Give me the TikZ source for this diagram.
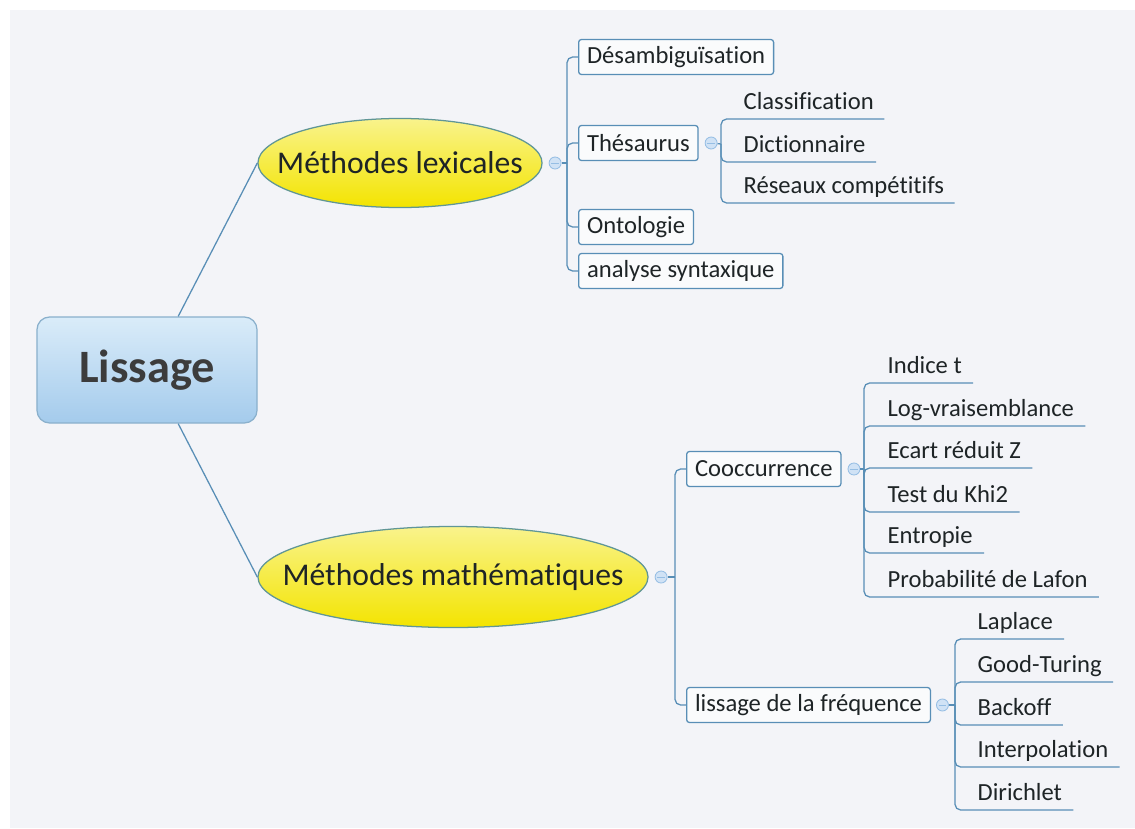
\documentclass[tikz,border=0pt]{standalone}
\usepackage{fontspec}
\setmainfont{Carlito}[Ligatures=NoCommon]
\usepackage{xcolor}
\usepackage{tikz}
\usetikzlibrary{
    shapes.geometric,
    positioning
}
\definecolor{lineblue}{RGB}{88,142,182}
\definecolor{bgpaper}{RGB}{243,244,248}
\definecolor{markfill}{RGB}{208,226,245}
\definecolor{markdraw}{RGB}{150,190,228}
\definecolor{inktext}{RGB}{30,36,38}
\definecolor{ovaldraw}{RGB}{96,150,150}

\begin{document}
\begin{tikzpicture}[x=0.025cm, y=-0.025cm, line width=0.9pt, font=\fontsize{17.5}{21}\selectfont, text=inktext]
    \tikzstyle{root}=[rounded corners=9pt, draw=lineblue!70, top color={rgb,255:red,218;green,236;blue,249}, bottom color={rgb,255:red,164;green,203;blue,236}, minimum width=5.5cm, minimum height=2.65cm, font=\fontsize{33}{40}\selectfont\bfseries, text={rgb,255:red,60;green,60;blue,60}]
    \tikzstyle{oval}=[ellipse, draw=ovaldraw, top color={rgb,255:red,249;green,243;blue,140}, bottom color={rgb,255:red,243;green,228;blue,0}, inner sep=0pt, font=\fontsize{22.5}{27}\selectfont]
    \tikzstyle{topic}=[draw=lineblue, fill=white!60!bgpaper, rounded corners=2pt, anchor=west, minimum height=0.875cm, inner xsep=0.21cm]
    \tikzstyle{leaf}=[anchor=south west, inner xsep=0pt, inner ysep=3.5pt, text depth=.25em]
    \tikzstyle{marker}=[circle, draw=markdraw, fill=markfill, minimum size=0.3cm, inner sep=0pt, line width=0.6pt, path picture={\draw[markdraw] ([xshift=1.5pt]path picture bounding box.west) -- ([xshift=-1.5pt]path picture bounding box.east);}]
    \tikzstyle{branch}=[draw=lineblue, rounded corners=4pt]

    \useasboundingbox (0,0) rectangle (1135,828);
    \fill[bgpaper] (10,10) rectangle (1135,828);

    \node [root] (lissage) at (147,370) {Lissage};

    \node [oval, minimum width=7.1cm, minimum height=2.225cm] (lex) at (400,163) {\makebox[0pt]{Méthodes lexicales}};
    \node [oval, minimum width=9.75cm, minimum height=2.525cm] (math) at (453,577) {\makebox[0pt]{Méthodes mathématiques}};

    \draw [branch] ([xshift=0.78cm]lissage.north) -- (lex.west);
    \draw [branch] ([xshift=0.78cm]lissage.south) -- (math.west);

    % lexical branch
    \node [marker, right=0.15cm of lex] (lexM) {};
    \coordinate (lexB) at (567,163);
    \draw [branch] (lexM) -- (lexB);

    \node [topic] (desamb) at (578,57) {Désambiguïsation};
    \node [topic] (thes) at (578,143) {Thésaurus};
    \node [topic] (onto) at (578,227) {Ontologie};
    \node [topic] (synt) at (578,271) {analyse syntaxique};
    \foreach \n in {desamb, thes, onto, synt}
        \draw [branch] (lexB) |- (\n.west);

    \node [marker, right=0.15cm of thes] (thesM) {};
    \coordinate (thesB) at (721,144);
    \draw [branch] (thesM) -- (thesB);

    \node [leaf] (classif) at (743,119) {Classification};
    \node [leaf] (dico) at (743,162) {Dictionnaire};
    \node [leaf] (reseaux) at (743,203) {Réseaux compétitifs};
    \foreach \n in {classif, dico, reseaux}
        \draw [branch] (thesB) |- ([xshift=0.25cm]\n.south east);

    % mathematical branch
    \node [marker, right=0.15cm of math] (mathM) {};
    \coordinate (mathB) at (675,577);
    \draw [branch] (mathM) -- (mathB);

    \node [topic] (cooc) at (686,469) {Cooccurrence};
    \node [topic] (freq) at (686,705) {lissage de la fréquence};
    \foreach \n in {cooc, freq}
        \draw [branch] (mathB) |- (\n.west);

    \node [marker, right=0.15cm of cooc] (coocM) {};
    \coordinate (coocB) at (864,469);
    \draw [branch] (coocM) -- (coocB);

    \node [leaf] (tindex) at (887,383) {Indice t};
    \node [leaf] (logv) at (887,426) {Log-vraisemblance};
    \node [leaf] (ecart) at (887,468) {Ecart réduit Z};
    \node [leaf] (khi) at (887,512) {Test du Khi2};
    \node [leaf] (entro) at (887,553) {Entropie};
    \node [leaf] (lafon) at (887,597) {Probabilité de Lafon};
    \foreach \n in {tindex, logv, ecart, khi, entro, lafon}
        \draw [branch] (coocB) |- ([xshift=0.27cm]\n.south east);

    \node [marker, right=0.125cm of freq] (freqM) {};
    \coordinate (freqB) at (955,705);
    \draw [branch] (freqM) -- (freqB);

    \node [leaf] (laplace) at (977,639) {Laplace};
    \node [leaf] (good) at (977,682) {Good-Turing};
    \node [leaf] (backoff) at (977,725) {Backoff};
    \node [leaf] (interp) at (977,767) {Interpolation};
    \node [leaf] (diri) at (977,810) {Dirichlet};
    \foreach \n in {laplace, good, backoff, interp, diri}
        \draw [branch] (freqB) |- ([xshift=0.27cm]\n.south east);
\end{tikzpicture}
\end{document}
